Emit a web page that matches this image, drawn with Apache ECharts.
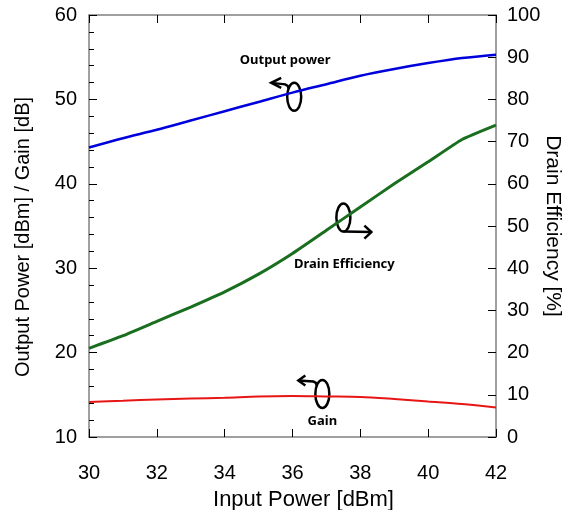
<!DOCTYPE html>
<html>
<head>
<meta charset="utf-8">
<script src="https://cdn.jsdelivr.net/npm/echarts@6/dist/echarts.min.js"></script>
<style>html,body{margin:0;padding:0;background:#fff}#c{width:572px;height:510px}</style>
</head>
<body>
<div id="c"></div>
<script>
var inputPower = [30, 31, 32, 33, 34, 35, 36, 37, 38, 39, 40, 41, 42];
var outputPower = [44.3, 45.4, 46.4, 47.5, 48.6, 49.7, 50.8, 51.8, 52.8, 53.6, 54.3, 54.9, 55.3];
var gain = [14.15, 14.3, 14.45, 14.55, 14.65, 14.8, 14.85, 14.8, 14.75, 14.5, 14.2, 13.9, 13.5];
var drainEff = [21, 24, 27.4, 30.8, 34.4, 38.6, 43.5, 49, 54.5, 60, 65.2, 70.5, 73.9];
var xTicks = [30, 32, 34, 36, 38, 40, 42];
var leftTicks = [10, 20, 30, 40, 50, 60];
var rightTicks = [0, 10, 20, 30, 40, 50, 60, 70, 80, 90, 100];
// annotation anchors (data space, left axis)
var annOutput = { x: 36.05, y: 50.3, label: 'Output power' };
var annDrain = { x: 37.5, y: 36.0, label: 'Drain Efficiency' };
var annGain = { x: 36.88, y: 15.1, label: 'Gain' };

function zip(a, b) { return a.map(function (v, i) { return [v, b[i]]; }); }

var chart = echarts.init(document.getElementById('c'));
var axisLineStyle = { color: '#808080', width: 1.5 };
var labelFont = { fontFamily: 'Liberation Sans', fontSize: 20, color: '#000' };
chart.setOption({
  animation: false,
  grid: { left: 89, right: 76, top: 15, bottom: 73, containLabel: false, outerBoundsMode: 'none' },
  xAxis: [{
    type: 'value', min: xTicks[0], max: xTicks[xTicks.length - 1], interval: 2,
    axisLine: { lineStyle: axisLineStyle },
    axisTick: { inside: true, length: 8, lineStyle: { color: '#000' } },
    splitLine: { show: false },
    axisLabel: Object.assign({ margin: 26 }, labelFont),
    name: 'Input Power [dBm]', nameLocation: 'middle', nameGap: 52,
    nameTextStyle: { fontFamily: 'Liberation Sans', fontSize: 22, color: '#000', padding: [0, 0, 0, 22] }
  }, {
    type: 'value', position: 'top', min: xTicks[0], max: xTicks[xTicks.length - 1], interval: 2,
    axisLine: { show: true, lineStyle: axisLineStyle },
    axisTick: { show: true, inside: true, length: 8, lineStyle: { color: '#000' } },
    axisLabel: { show: false }, splitLine: { show: false }
  }],
  yAxis: [{
    type: 'value', min: leftTicks[0], max: leftTicks[leftTicks.length - 1], interval: 10,
    axisLine: { show: true, lineStyle: axisLineStyle },
    axisTick: { show: true, inside: true, length: 8, lineStyle: { color: '#000' } },
    minorTick: { show: true, splitNumber: 5, length: 5, lineStyle: { color: '#000' } },
    splitLine: { show: false },
    axisLabel: Object.assign({ margin: 12 }, labelFont),
    name: 'Output Power [dBm] / Gain [dB]', nameLocation: 'middle', nameGap: 56, nameRotate: 90,
    nameTextStyle: { fontFamily: 'Liberation Sans', fontSize: 20, color: '#000', padding: [0, 22, 0, 0] }
  }, {
    type: 'value', position: 'right', min: rightTicks[0], max: rightTicks[rightTicks.length - 1], interval: 10,
    axisLine: { show: true, lineStyle: axisLineStyle },
    axisTick: { show: true, inside: true, length: 8, lineStyle: { color: '#000' } },
    splitLine: { show: false },
    axisLabel: Object.assign({ margin: 11 }, labelFont),
    name: 'Drain Efficiency [%]', nameLocation: 'middle', nameGap: 46, nameRotate: -90, nameMoveOverlap: false,
    nameTextStyle: { fontFamily: 'Liberation Sans', fontSize: 21, color: '#000' }
  }],
  series: [{
    name: 'Output power', type: 'line', xAxisIndex: 0, yAxisIndex: 0, data: zip(inputPower, outputPower),
    showSymbol: false, smooth: 0.3, lineStyle: { color: '#0000dd', width: 2.5 }
  }, {
    name: 'Gain', type: 'line', xAxisIndex: 0, yAxisIndex: 0, data: zip(inputPower, gain),
    showSymbol: false, smooth: 0.3, lineStyle: { color: '#e81515', width: 2 }
  }, {
    name: 'Drain Efficiency', type: 'line', xAxisIndex: 0, yAxisIndex: 1, data: zip(inputPower, drainEff),
    showSymbol: false, smooth: 0.15, lineStyle: { color: '#1a6e1f', width: 3 }
  }]
});

function px(a) { return chart.convertToPixel({ xAxisIndex: 0, yAxisIndex: 0 }, [a.x, a.y]); }
var stroke = { stroke: '#000', lineWidth: 2.5, fill: null };
var textStyle = { fontFamily: 'Noto Sans', fontWeight: 'bold', fontSize: 13, fill: '#000', align: 'center', verticalAlign: 'middle' };
function group(a, stem, head, textDy, textDx) {
  var p = px(a);
  return {
    type: 'group', x: p[0], y: p[1],
    children: [
      { type: 'ellipse', shape: { cx: 0, cy: 0, rx: 7, ry: 14 }, style: stroke },
      { type: 'polyline', shape: { points: stem }, style: stroke },
      { type: 'polyline', shape: { points: head }, style: stroke },
      { type: 'text', x: textDx, y: textDy, style: Object.assign({ text: a.label }, textStyle) }
    ]
  };
}
chart.setOption({
  graphic: [
    group(annOutput, [[-23, -14], [-9, -12.5], [-6.5, -11], [-5.5, -8]], [[-13, -19], [-23, -14], [-13, -9]], -36.5, -9),
    group(annDrain, [[0, 14], [28, 14.5]], [[21, 8], [28, 14.5], [21, 21]], 46.5, 1),
    group(annGain, [[-24, -13.5], [-9, -12.5], [-6.5, -11], [-5.5, -8]], [[-17, -18.5], [-24, -13.5], [-17, -8.5]], 27, 0)
  ]
});
</script>
</body>
</html>
